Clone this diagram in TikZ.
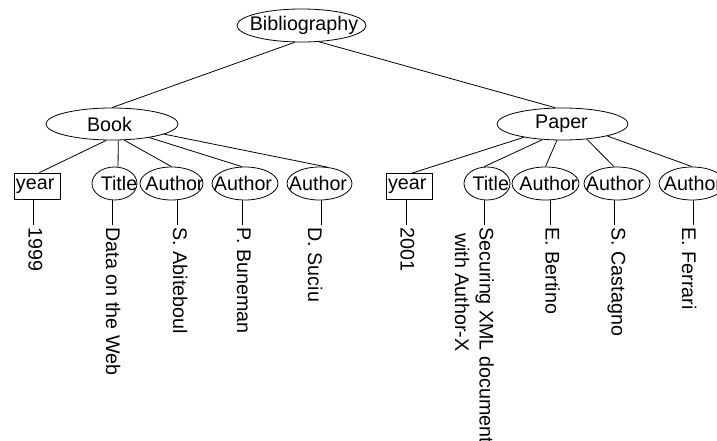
\documentclass[tikz,border=0pt]{standalone}
\usepackage{fontspec}
\setmainfont{Liberation Sans}
\usetikzlibrary{shapes.geometric}
% zero-width label so the ellipse keeps its given size; optional argument moves the text
\newcommand{\ctext}[2][0pt]{\makebox[0pt]{\hspace*{#1}#2\hspace*{-#1}}}
\begin{document}
\begin{tikzpicture}[x=1pt,y=-1pt,
  every node/.style={font=\fontsize{19.7}{24.5}\selectfont, inner sep=0pt},
  elem/.style={draw, ellipse, line width=0.8pt, minimum height=33pt},
  attr/.style={draw, rectangle, line width=0.8pt, minimum height=26pt,
               text width=42pt, align=left, inner xsep=2pt},
  val/.style={rotate=-90, anchor=base west, inner xsep=2.5pt},
  link/.style={draw, line width=0.8pt}
]
\useasboundingbox (0,0) rectangle (717,441);
\clip (0,0) rectangle (717,441);

% root and the two entries
\node[elem, minimum width=129pt] (bib) at (301.5,25.5) {\ctext[2.5pt]{Bibliography}};
\node[elem, minimum width=132pt, minimum height=32pt] (book) at (112,124) {\ctext[-2.5pt]{Book}};
\node[elem, minimum width=131pt, minimum height=32pt] (paper) at (562.5,124) {\ctext[-1pt]{Paper}};

% children of Book
\node[attr] (y1) at (37,186) {year};
\node[elem, minimum width=45pt] (t1) at (114.5,183.5) {\ctext[4.5pt]{Title}};
\node[elem, minimum width=63pt] (a1) at (171.5,183.5) {\ctext[3pt]{Author}};
\node[elem, minimum width=66pt] (a2) at (245,183.5) {\ctext[-2pt]{Author}};
\node[elem, minimum width=65pt] (a3) at (319.5,183.5) {\ctext[-1.5pt]{Author}};

% children of Paper
\node[attr] (y2) at (409,186.5) {year};
\node[elem, minimum width=46pt] (t2) at (487,183.5) {\ctext[3.8pt]{Title}};
\node[elem, minimum width=67pt] (a4) at (545.5,183.5) {\ctext[3pt]{Author}};
\node[elem, minimum width=66pt] (a5) at (617,183.5) {\ctext[-2pt]{Author}};
\node[elem, minimum width=66pt] (a6) at (692,183.5) {\ctext[1pt]{Author}};

% values, written downwards
\node[val] (v1) at (28.5,225) {1999};
\node[val] (v2) at (106,225) {Data on the Web};
\node[val] (v3) at (173,225) {S. Abiteboul};
\node[val] (v4) at (237,225) {P. Buneman};
\node[val] (v5) at (308,225) {D. Suciu};
\node[val] (v6) at (400.5,225) {2001};
\node[rotate=-90, anchor=north west, inner xsep=2pt, align=left] (v7) at (494,225)
  {Securing XML document\\\hspace*{6pt}with Author-X};
\node[val] (v8) at (545.5,225) {E. Bertino};
\node[val] (v9) at (611.5,225) {S. Castagno};
\node[val] (v10) at (682,225) {E. Ferrari};

% tree edges
\path[link] (bib.-112) -- (book.north);
\path[link] (bib.-43) -- (paper.114);
\path[link] (book.-109) -- (y1.80);
\path[link] (book.-69) -- (t1.78);
\path[link] (book.-53) -- (a1.north);
\path[link] (book.-20) -- (a2.100);
\path[link] (book.-11) -- (a3.66);
\path[link] (paper.-161) -- (y2.77);
\path[link] (paper.-142) -- (t2.100);
\path[link] (paper.-109) -- (a4.north);
\path[link] (paper.-32) -- (a5.100);
\path[link] (paper.-15) -- (a6.north);

% stems from each leaf element down to its value
\coordinate (s1) at ([xshift=4.5pt]v1.base west);
\coordinate (s2) at ([xshift=6pt]v2.base west);
\coordinate (s3) at ([xshift=4pt]v3.base west);
\coordinate (s4) at ([xshift=5pt]v4.base west);
\coordinate (s5) at ([xshift=13pt]v5.base west);
\coordinate (s6) at ([xshift=5.5pt]v6.base west);
\coordinate (s7) at ([xshift=-10pt]v7.north west);
\coordinate (s8) at ([xshift=4.5pt]v8.base west);
\coordinate (s9) at ([xshift=2.5pt]v9.base west);
\coordinate (s10) at ([xshift=11pt]v10.base west);
\path[link] (s1) -- (s1 |- y1.south);
\path[link] (s2) -- (s2 |- t1.south);
\path[link] (s3) -- (s3 |- a1.south);
\path[link] (s4) -- (s4 |- a2.south);
\path[link] (s5) -- (s5 |- a3.south);
\path[link] (s6) -- (s6 |- y2.south);
\path[link] (s7) -- (s7 |- t2.south);
\path[link] (s8) -- (s8 |- a4.south);
\path[link] (s9) -- (s9 |- a5.south);
\path[link] (s10) -- (s10 |- a6.south);
\end{tikzpicture}
\end{document}
